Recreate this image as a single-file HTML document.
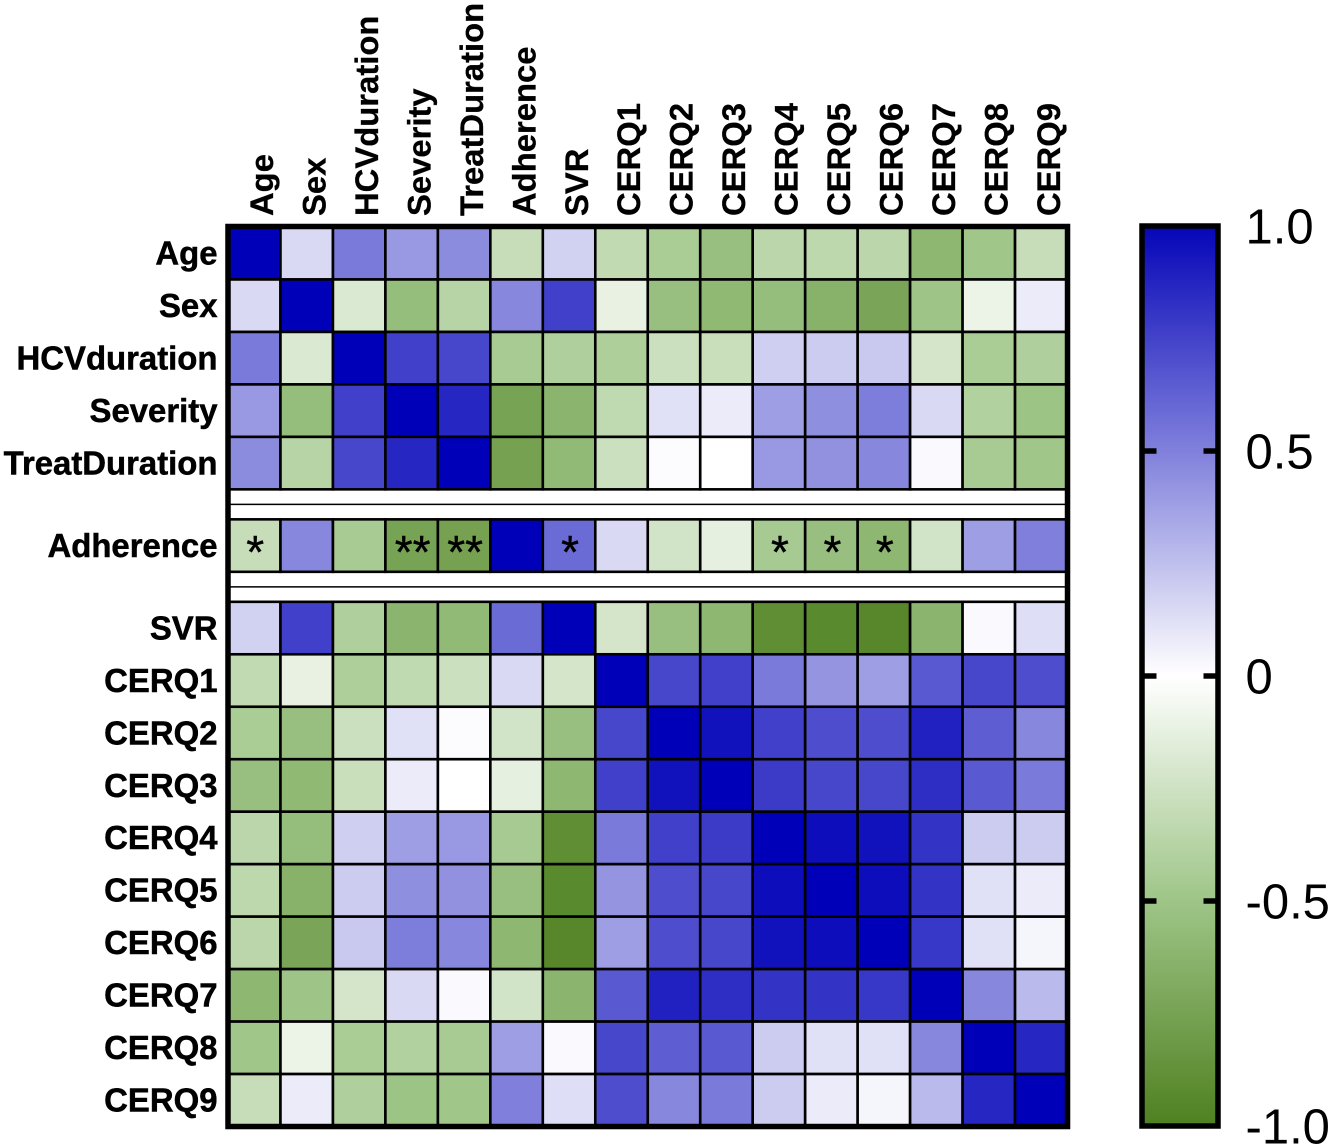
<!DOCTYPE html>
<html lang="en">
<head>
<meta charset="utf-8">
<title>Correlation heatmap</title>
<style>
html,body{margin:0;padding:0;background:#fff;width:1332px;height:1147px;overflow:hidden}
svg{display:block;font-family:"Liberation Sans",sans-serif}
</style>
</head>
<body>
<svg id="chart" width="1332" height="1147" viewBox="0 0 1332 1147" xmlns="http://www.w3.org/2000/svg">
<defs>
<linearGradient id="scale-gradient" x1="0" y1="0" x2="0" y2="1">
<stop offset="0" stop-color="#0505b8"/>
<stop offset="0.25" stop-color="#8080dc"/>
<stop offset="0.5" stop-color="#ffffff"/>
<stop offset="0.75" stop-color="#9ec587"/>
<stop offset="1" stop-color="#4f8020"/>
</linearGradient>
</defs>
</svg>
<script>
const variables = ["Age","Sex","HCVduration","Severity","TreatDuration","Adherence","SVR","CERQ1","CERQ2","CERQ3","CERQ4","CERQ5","CERQ6","CERQ7","CERQ8","CERQ9"];
const rowAge =           [1,.15,.52,.4,.45,-.29,.18,-.32,-.44,-.54,-.35,-.34,-.35,-.6,-.49,-.29];
const rowSex =           [.15,1,-.19,-.56,-.37,.47,.75,-.12,-.54,-.59,-.56,-.64,-.73,-.5,-.1,.08];
const rowHCVduration =   [.52,-.19,1,.75,.72,-.45,-.41,-.42,-.27,-.28,.19,.2,.21,-.22,-.44,-.41];
const rowSeverity =      [.4,-.56,.75,1,.85,-.75,-.62,-.33,.12,.08,.38,.44,.51,.15,-.4,-.51];
const rowTreatDuration = [.45,-.37,.72,.85,1,-.76,-.58,-.27,.01,0,.4,.43,.47,.02,-.45,-.49];
const rowAdherence =     [-.29,.47,-.45,-.75,-.76,1,.58,.15,-.23,-.13,-.46,-.54,-.6,-.23,.38,.5];
const rowSVR =           [.18,.75,-.41,-.62,-.58,.58,1,-.22,-.54,-.6,-.9,-.93,-.95,-.62,.02,.13];
const rowCERQ1 =         [-.32,-.12,-.42,-.33,-.27,.15,-.22,1,.72,.75,.52,.42,.38,.65,.72,.7];
const rowCERQ2 =         [-.44,-.54,-.27,.12,.01,-.23,-.54,.72,1,.93,.75,.7,.7,.87,.63,.47];
const rowCERQ3 =         [-.54,-.59,-.28,.08,0,-.13,-.6,.75,.93,1,.77,.72,.72,.82,.65,.52];
const rowCERQ4 =         [-.35,-.56,.19,.38,.4,-.46,-.9,.52,.75,.77,1,.95,.93,.8,.2,.2];
const rowCERQ5 =         [-.34,-.64,.2,.44,.43,-.54,-.93,.42,.7,.72,.95,1,.95,.8,.12,.08];
const rowCERQ6 =         [-.35,-.73,.21,.51,.47,-.6,-.95,.38,.7,.72,.93,.95,1,.78,.12,.04];
const rowCERQ7 =         [-.6,-.5,-.22,.15,.02,-.23,-.62,.65,.87,.82,.8,.8,.78,1,.47,.27];
const rowCERQ8 =         [-.49,-.1,-.44,-.4,-.45,.38,.02,.72,.63,.65,.2,.12,.12,.47,1,.85];
const rowCERQ9 =         [-.29,.08,-.41,-.51,-.49,.5,.13,.7,.47,.52,.2,.08,.04,.27,.85,1];
const matrix = [rowAge,rowSex,rowHCVduration,rowSeverity,rowTreatDuration,rowAdherence,rowSVR,rowCERQ1,rowCERQ2,rowCERQ3,rowCERQ4,rowCERQ5,rowCERQ6,rowCERQ7,rowCERQ8,rowCERQ9];
const adherenceStars = ["*","","","**","**","","*","","","","*","*","*","","",""];
const scaleTicks = [1,0.5,0,-0.5,-1];
const scaleTickLabels = ["1.0","0.5","0","-0.5","-1.0"];

const svg = document.getElementById('chart');
const NS = 'http://www.w3.org/2000/svg';
const PITCH = 52.47, GRID_L = 228, GRID_T = 227, GAP = 30;
const GRID_R = GRID_L + PITCH * variables.length;
const GRID_B = GRID_T + PITCH * variables.length + 2 * GAP;

function xScale(col){ return GRID_L + col * PITCH; }
function yScale(row){ return GRID_T + row * PITCH + (row > 4 ? GAP : 0) + (row > 5 ? GAP : 0); }
function scaleY(v){ return 676 - v * 450; }
function mix(a, b, t){ return a.map((e, i) => Math.round(e + (b[i] - e) * t)); }
function colorOf(v){
  const t = Math.min(1, Math.abs(v));
  let c;
  if (v >= 0) c = mix([255,255,255], [0,0,184], t);
  else if (t <= 0.5) c = mix([255,255,255], [158,197,135], t / 0.5);
  else c = mix([158,197,135], [79,128,32], (t - 0.5) / 0.5);
  return 'rgb(' + c.join(',') + ')';
}
function make(tag, attrs, parent){
  const el = document.createElementNS(NS, tag);
  for (const k in attrs) el.setAttribute(k, attrs[k]);
  (parent || svg).appendChild(el);
  return el;
}

matrix.forEach((vals, r) => {
  vals.forEach((v, c) => {
    const cell = make('rect', {x: xScale(c), y: yScale(r), width: PITCH, height: PITCH, fill: colorOf(v), stroke: '#000', 'stroke-width': 2.6});
    
    
  });
});

[yScale(5) - GAP / 2, yScale(6) - GAP / 2].forEach(y => {
  const sep = make('line', {x1: GRID_L, x2: GRID_R, y1: y, y2: y, stroke: '#000', 'stroke-width': 1.5});
  
  
});

const frame = make('rect', {x: GRID_L, y: GRID_T - 0.5, width: GRID_R - GRID_L, height: GRID_B - GRID_T + 0.5, fill: 'none', stroke: '#000', 'stroke-width': 5.5});



variables.forEach((name, i) => {
  const rowLabel = make('text', {x: 217.5, y: yScale(i) + PITCH / 2 + 11.3, 'text-anchor': 'end', 'font-size': 32.9, 'font-weight': 'bold', fill: '#000', stroke: '#000', 'stroke-width': 0.5});
  rowLabel.textContent = name;
  
  

  const bx = xScale(i) + PITCH / 2 + 18.7;
  const colLabel = make('text', {x: bx, y: 216, transform: 'rotate(-90 ' + bx + ' 216)', 'font-size': 32.8, 'font-weight': 'bold', fill: '#000', stroke: '#000', 'stroke-width': 0.3});
  colLabel.textContent = name;
  
  
});

adherenceStars.forEach((s, c) => {
  if (!s) return;
  const star = make('text', {x: xScale(c) + PITCH / 2 + 1, y: yScale(5) + PITCH / 2 + 22.5, 'text-anchor': 'middle', 'font-size': 46, fill: '#000', stroke: '#000', 'stroke-width': 0.4});
  star.textContent = s;
  
  
});

const bar = make('rect', {x: 1142, y: scaleY(1), width: 76, height: scaleY(-1) - scaleY(1), fill: 'url(#scale-gradient)', stroke: '#000', 'stroke-width': 5.5});



scaleTicks.forEach((v, i) => {
  const y = scaleY(v);
  if (Math.abs(v) < 1) {
    const tl = make('line', {x1: 1144, x2: 1156.5, y1: y, y2: y, stroke: '#000', 'stroke-width': 5.5});
    
    
    const tr = make('line', {x1: 1203.5, x2: 1216, y1: y, y2: y, stroke: '#000', 'stroke-width': 5.5});
    
    
  }
  const label = make('text', {x: 1245.5, y: y + 17.5, 'font-size': 49, fill: '#000'});
  label.textContent = scaleTickLabels[i];
  
  
});
</script>
</body>
</html>
